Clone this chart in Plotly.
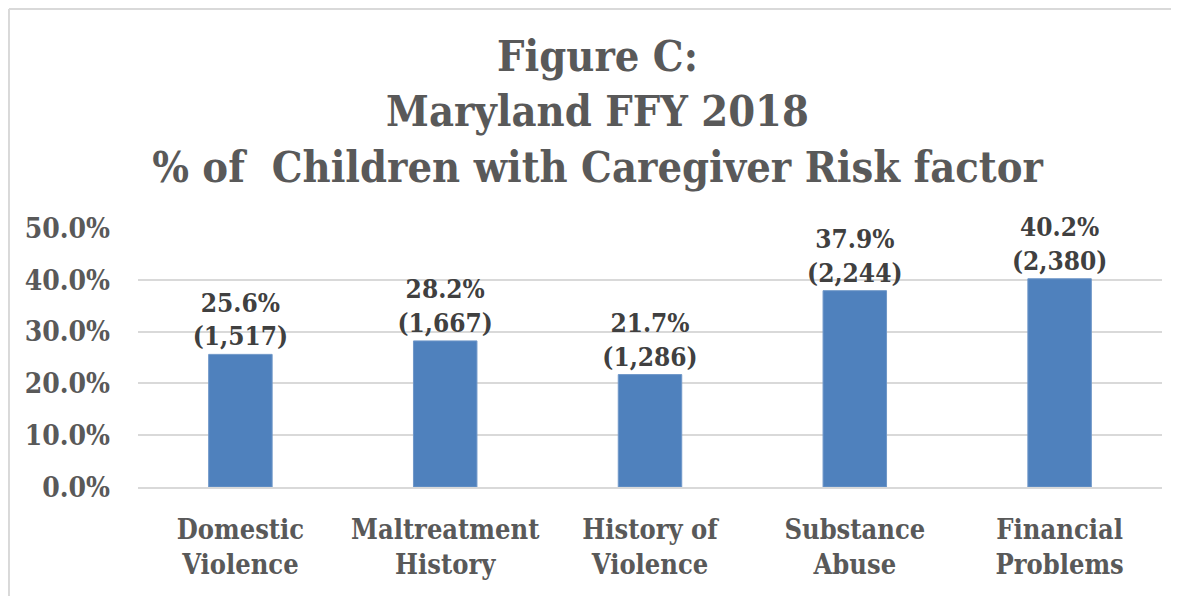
import plotly.graph_objects as go

categories = ["Domestic<br>Violence", "Maltreatment<br>History", "History of<br>Violence",
              "Substance<br>Abuse", "Financial<br>Problems"]
pct = [0.256, 0.282, 0.217, 0.379, 0.402]
counts = ["1,517", "1,667", "1,286", "2,244", "2,380"]

labels = [f"{p:.1%}<br>({c})" for p, c in zip(pct, counts)]

serif = "DejaVu Serif Condensed, DejaVu Serif, serif"

fig = go.Figure(go.Bar(
    x=categories, y=pct,
    marker=dict(color="#4f81bd", line=dict(color="#6f97c8", width=1)),
    text=labels, textposition="outside", constraintext="none", cliponaxis=False,
    textfont=dict(family=serif, size=26, color="#404040", weight="bold"),
))

fig.update_layout(
    width=1179, height=596,
    margin=dict(l=130, r=25, t=220, b=117),
    paper_bgcolor="white", plot_bgcolor="white",
    bargap=0.69, showlegend=False,
    font=dict(family=serif, color="#595959"),
    title=dict(
        text="<b>Figure C:<br>Maryland FFY 2018<br>% of&nbsp; Children with Caregiver Risk factor</b>",
        x=0.5, xanchor="center", y=0.895, yanchor="top", yref="container",
        font=dict(family=serif, size=43, color="#595959"),
    ),
)
fig.update_yaxes(range=[0, 0.5], dtick=0.1, tickformat=".1%",
                 showgrid=True, gridcolor="#d9d9d9", gridwidth=1.5, zeroline=False,
                 ticklabelstandoff=27,
                 tickfont=dict(family=serif, size=28, color="#595959", weight="bold"))
fig.update_xaxes(showline=True, linecolor="#d9d9d9", linewidth=1.5, ticks="",
                 ticklabelstandoff=18,
                 tickfont=dict(family=serif, size=27, color="#595959", weight="bold"))

# chart frame (left and top edges visible in the picture)
fig.add_shape(type="line", xref="paper", yref="paper", x0=-0.126, x1=-0.126, y0=1.8456, y1=-0.5,
              line=dict(color="#d9d9d9", width=2))
fig.add_shape(type="line", xref="paper", yref="paper", x0=-0.126, x1=1.1, y0=1.8456, y1=1.8456,
              line=dict(color="#d9d9d9", width=2))

fig.write_html("out.html")
